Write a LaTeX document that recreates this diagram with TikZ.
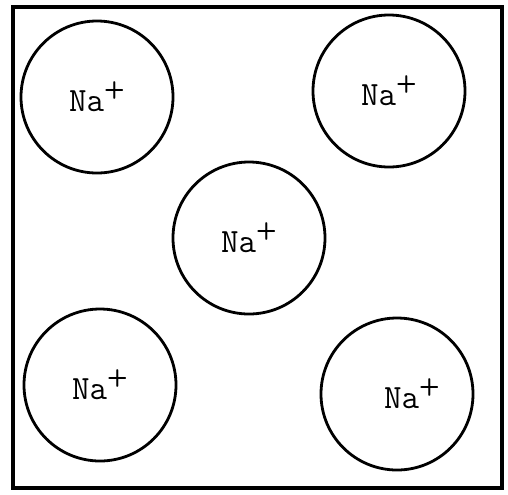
\documentclass[tikz,border=0pt]{standalone}
\usepackage{tikz}
\usetikzlibrary{positioning}
\tikzset{
  % Ion sphere: circle with the ion label inside
  ion/.style={
    circle, draw=black, line width=1.4pt,
    minimum size=76pt, inner sep=0pt,
    font=\ttfamily\fontsize{17}{19}\selectfont
  },
  % Outer frame of the cell
  cell/.style={draw=black, line width=1.6pt}
}
\newcommand{\naion}{Na\raisebox{1.0ex}{\fontsize{12}{12}\selectfont\sffamily\bfseries +}}

\begin{document}
\begin{tikzpicture}[x=0.5pt, y=-0.5pt]
  \useasboundingbox (0,0) rectangle (508,494);
  % Frame
  \draw[cell] (13,7) rectangle (502,488);

  % Five ions: four corners and one in the middle
  \node[ion] (tl) at (97,97)   {\naion};
  \node[ion] (tr) at (389,91)  {\naion};
  \node[ion] (mid) at (249,238) {\naion};
  \node[ion] (bl) at (100,385) {\naion};
  \node[ion] (br) at (397,394) {\hspace{15pt}\naion};
\end{tikzpicture}
\end{document}
